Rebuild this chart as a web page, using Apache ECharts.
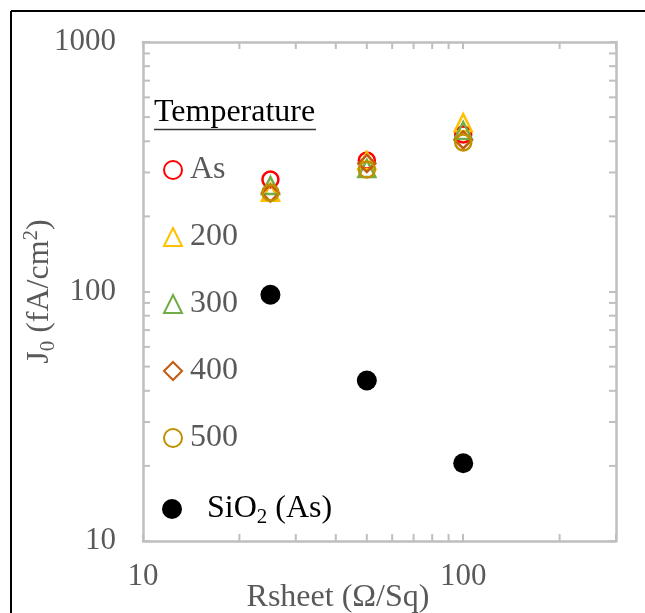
<!DOCTYPE html>
<html>
<head>
<meta charset="utf-8">
<script src="https://cdn.jsdelivr.net/npm/echarts@6/dist/echarts.min.js"></script>
<style>
  html, body { margin: 0; padding: 0; background: #fff; }
  #chart { width: 645px; height: 613px; }
</style>
</head>
<body>
<div id="chart"></div>
<script>
// values (log-log)
const rsheet = [25, 50, 100];
const jAs = [281, 335, 426];
const j200 = [250, 335, 475];
const j300 = [266, 311, 442];
const j400 = [248, 326, 405];
const j500 = [249, 308, 396];
const jSiO2 = [97, 44, 20.5];

const xMinorTicks = [20, 30, 40, 50, 60, 70, 80, 90, 200];
const yMinorTicks = [20, 30, 40, 50, 60, 70, 80, 90, 200, 300, 400, 500, 600, 700, 800, 900];

const X_MIN = 10, X_MAX = 300, Y_MIN = 10, Y_MAX = 1000;

const FONT = 'Liberation Serif';
const GRAY = '#595959';
const BOX = '#BFBFBF';

const chart = echarts.init(document.getElementById('chart'));

const pts = ys => rsheet.map((x, i) => [x, ys[i]]);

const isDecade = v => Math.abs(Math.log10(v) - Math.round(Math.log10(v))) < 1e-6;

const boxAxis = (extra) => Object.assign({
  type: 'log',
  logBase: 10,
  axisLine: { show: true, lineStyle: { color: BOX, width: 2.5 } },
  axisTick: { show: true, inside: true, length: 7, lineStyle: { color: BOX, width: 2 } },
  splitLine: { show: false },
  minorTick: { show: false },
}, extra);

const hollow = (name, symbol, size, color) => ({
  name: name,
  type: 'scatter',
  symbol: symbol,
  symbolSize: size,
  itemStyle: { color: 'transparent', borderColor: color, borderWidth: 2.5, opacity: 1 },
  z: 3,
});

const minorTickSeries = (data, horizontal) => ({
  type: 'custom',
  silent: true,
  clip: false,
  z: 1,
  data: data,
  renderItem: (params, api) => {
    const v = api.value(horizontal ? 0 : 1);
    const style = { stroke: BOX, lineWidth: 2 };
    if (horizontal) {
      const b = api.coord([v, Y_MIN]);
      const t = api.coord([v, Y_MAX]);
      return { type: 'group', children: [
        { type: 'line', shape: { x1: b[0], y1: b[1], x2: b[0], y2: b[1] - 7 }, style },
        { type: 'line', shape: { x1: t[0], y1: t[1], x2: t[0], y2: t[1] + 7 }, style },
      ] };
    }
    const l = api.coord([X_MIN, v]);
    const r = api.coord([X_MAX, v]);
    return { type: 'group', children: [
      { type: 'line', shape: { x1: l[0], y1: l[1], x2: l[0] + 7, y2: l[1] }, style },
      { type: 'line', shape: { x1: r[0], y1: r[1], x2: r[0] - 7, y2: r[1] }, style },
    ] };
  },
});

chart.setOption({
  animation: false,
  backgroundColor: '#fff',
  textStyle: { fontFamily: FONT },
  grid: { left: 143, top: 42, right: 29, bottom: 72, containLabel: false, outerBoundsMode: 'none' },
  xAxis: [
    boxAxis({
      min: X_MIN, max: X_MAX, position: 'bottom',
      axisLabel: {
        margin: 20, color: GRAY, fontSize: 31, fontFamily: FONT,
        formatter: v => (isDecade(v) ? String(Math.round(v)) : ''),
      },
      name: 'Rsheet (Ω/Sq)',
      nameLocation: 'middle',
      nameGap: 41,
      nameMoveOverlap: false,
      nameTextStyle: { color: GRAY, fontSize: 32, fontFamily: FONT, padding: [0, 83, 0, 0] },
    }),
    boxAxis({ min: X_MIN, max: X_MAX, position: 'top', axisLabel: { show: false } }),
  ],
  yAxis: [
    boxAxis({
      min: Y_MIN, max: Y_MAX, position: 'left',
      axisLabel: {
        margin: 27, color: GRAY, fontSize: 31, fontFamily: FONT,
        formatter: v => (isDecade(v) ? String(Math.round(v)) : ''),
      },
      name: 'J{sub|0} (fA/cm{sup|2})',
      nameLocation: 'middle',
      nameGap: 84,
      nameMoveOverlap: false,
      nameTextStyle: {
        color: GRAY, fontSize: 32, fontFamily: FONT, lineHeight: 38,
        rich: {
          sub: { fontSize: 21, lineHeight: 21, verticalAlign: 'bottom', color: GRAY, fontFamily: FONT },
          sup: { fontSize: 21, lineHeight: 21, verticalAlign: 'top', color: GRAY, fontFamily: FONT },
        },
      },
    }),
    boxAxis({ min: Y_MIN, max: Y_MAX, position: 'right', axisLabel: { show: false } }),
  ],
  legend: [
    {
      orient: 'vertical',
      left: 163,
      top: 154,
      padding: 0,
      itemWidth: 18,
      itemHeight: 18,
      itemGap: 35,
      data: ['As', '200', '300', '400', '500'],
      textStyle: { color: GRAY, fontSize: 32, fontFamily: FONT, lineHeight: 32, padding: [0, 0, 0, 3] },
      selectedMode: false,
    },
    {
      orient: 'vertical',
      left: 162,
      top: 490,
      padding: 0,
      itemWidth: 20,
      itemHeight: 20,
      data: ['SiO2 (As)'],
      formatter: () => 'SiO{sub|2} (As)',
      textStyle: {
        color: '#000', fontSize: 32, fontFamily: FONT, lineHeight: 38, padding: [0, 0, 0, 20],
        rich: { sub: { fontSize: 21, lineHeight: 21, verticalAlign: 'bottom', color: '#000', fontFamily: FONT } },
      },
      selectedMode: false,
    },
  ],
  graphic: [
    { type: 'line', shape: { x1: 11, y1: 11, x2: 645, y2: 11 }, style: { stroke: '#000', lineWidth: 2 } },
    { type: 'line', shape: { x1: 11, y1: 11, x2: 11, y2: 613 }, style: { stroke: '#000', lineWidth: 2 } },
    { type: 'text', left: 154, top: 97, style: { text: 'Temperature', fill: '#000', font: '32px "Liberation Serif"' } },
    { type: 'line', shape: { x1: 154, y1: 129.5, x2: 316, y2: 129.5 }, style: { stroke: '#333', lineWidth: 1.5 } },
  ],
  series: [
    minorTickSeries(xMinorTicks.map(v => [v, Y_MIN]), true),
    minorTickSeries(yMinorTicks.map(v => [X_MIN, v]), false),
    Object.assign(hollow('As', 'circle', 16, '#FF0000'), { data: pts(jAs) }),
    Object.assign(hollow('200', 'triangle', 17, '#FFC000'), { data: pts(j200) }),
    Object.assign(hollow('300', 'triangle', 17, '#70AD47'), { data: pts(j300) }),
    Object.assign(hollow('400', 'diamond', 17, '#C55A11'), { data: pts(j400) }),
    Object.assign(hollow('500', 'circle', 16, '#BF9000'), { data: pts(j500) }),
    {
      name: 'SiO2 (As)',
      type: 'scatter',
      symbol: 'circle',
      symbolSize: 20,
      itemStyle: { color: '#000', opacity: 1 },
      data: pts(jSiO2),
      z: 4,
    },
  ],
});
</script>
</body>
</html>
